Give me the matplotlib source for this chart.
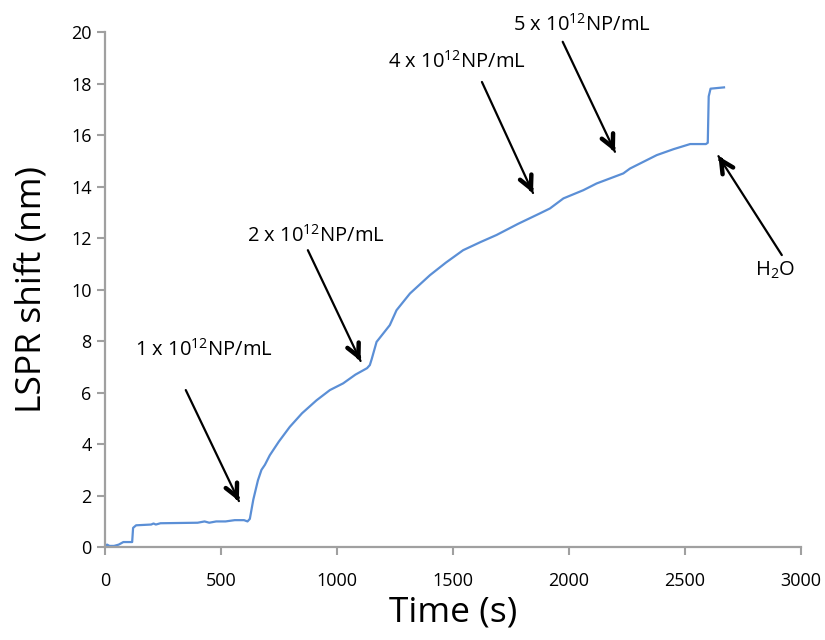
import matplotlib
matplotlib.use("Agg")
import matplotlib.pyplot as plt

plt.rcParams['font.family'] = ['Open Sans', 'DejaVu Sans']
plt.rcParams['mathtext.default'] = 'regular'

# LSPR shift trace vs time
time_s = [0, 10, 20, 40, 60, 70, 80, 118, 122, 135, 200, 210, 220, 240, 400,
          430, 450, 480, 520, 560, 600, 615, 625, 640, 660, 675, 690, 711,
          750, 797, 850, 912, 970, 1027, 1080, 1130, 1142, 1150, 1171, 1200,
          1228, 1257, 1315, 1401, 1470, 1544, 1620, 1688, 1780, 1875, 1918,
          1976, 2062, 2119, 2234, 2263, 2378, 2450, 2522, 2590, 2598, 2602,
          2610, 2668]
shift_nm = [0.05, 0.1, 0.05, 0.05, 0.1, 0.15, 0.2, 0.2, 0.75, 0.85, 0.88, 0.92,
            0.88, 0.93, 0.95, 1.0, 0.95, 1.0, 1.0, 1.05, 1.05, 1.0, 1.1, 1.85,
            2.6, 3.0, 3.2, 3.57, 4.1, 4.67, 5.2, 5.7, 6.1, 6.36, 6.7, 6.95,
            7.07, 7.3, 7.97, 8.3, 8.62, 9.2, 9.85, 10.56, 11.05, 11.53, 11.85,
            12.12, 12.55, 12.96, 13.15, 13.54, 13.86, 14.12, 14.51, 14.7,
            15.22, 15.45, 15.65, 15.65, 15.7, 17.5, 17.8, 17.85]

# injection labels: (text, text position, arrow tail, arrow tip)
labels = [r"1 x 10$^{12}$NP/mL", r"2 x 10$^{12}$NP/mL",
          r"4 x 10$^{12}$NP/mL", r"5 x 10$^{12}$NP/mL", r"H$_2$O"]
label_xy = [(429, 7.65), (909, 12.1), (1515, 18.83), (2054, 20.27), (2888, 10.76)]
arrow_tail = [(349, 6.1), (875, 11.53), (1625, 18.06), (1973, 19.62), (2917, 11.34)]
arrow_tip = [(578, 1.79), (1102, 7.23), (1845, 13.75), (2198, 15.35), (2644, 15.18)]

fig = plt.figure(figsize=(8.25, 6.4), dpi=100)
ax = fig.add_axes([0.127, 0.145, 0.844, 0.805])

ax.plot(time_s, shift_nm, color='#5b8fd6', lw=1.6)

ax.set_xlim(0, 3000)
ax.set_ylim(0, 20)
ax.set_xticks(range(0, 3001, 500))
ax.set_yticks(range(0, 21, 2))

for s in ['top', 'right']:
    ax.spines[s].set_visible(False)
for s in ['left', 'bottom']:
    ax.spines[s].set_color('#a0a0a0')
    ax.spines[s].set_linewidth(1.6)
ax.tick_params(direction='out', length=6, width=1.5, color='#a0a0a0',
               labelsize=13)
ax.tick_params(axis='x', pad=12)

ax.set_xlabel('Time (s)', fontsize=25.5, labelpad=4)
ax.set_ylabel('LSPR shift (nm)', fontsize=25.5, labelpad=16)

for txt, pos, tail, tip in zip(labels, label_xy, arrow_tail, arrow_tip):
    ax.text(pos[0], pos[1], txt, fontsize=14.5, ha='center', va='center',
            clip_on=False)
    # thin shaft
    ax.annotate('', xy=tip, xytext=tail,
                arrowprops=dict(arrowstyle='-', color='black', lw=1.6,
                                shrinkA=0, shrinkB=0), annotation_clip=False)
    # heavy chevron head at the tip
    hx = tip[0] + (tail[0] - tip[0]) * 0.04
    hy = tip[1] + (tail[1] - tip[1]) * 0.04
    ax.annotate('', xy=tip, xytext=(hx, hy),
                arrowprops=dict(arrowstyle='->,head_length=0.9,head_width=0.45',
                                color='black', lw=3.2, shrinkA=0, shrinkB=0),
                annotation_clip=False)

fig.savefig('out.png', dpi=100)
